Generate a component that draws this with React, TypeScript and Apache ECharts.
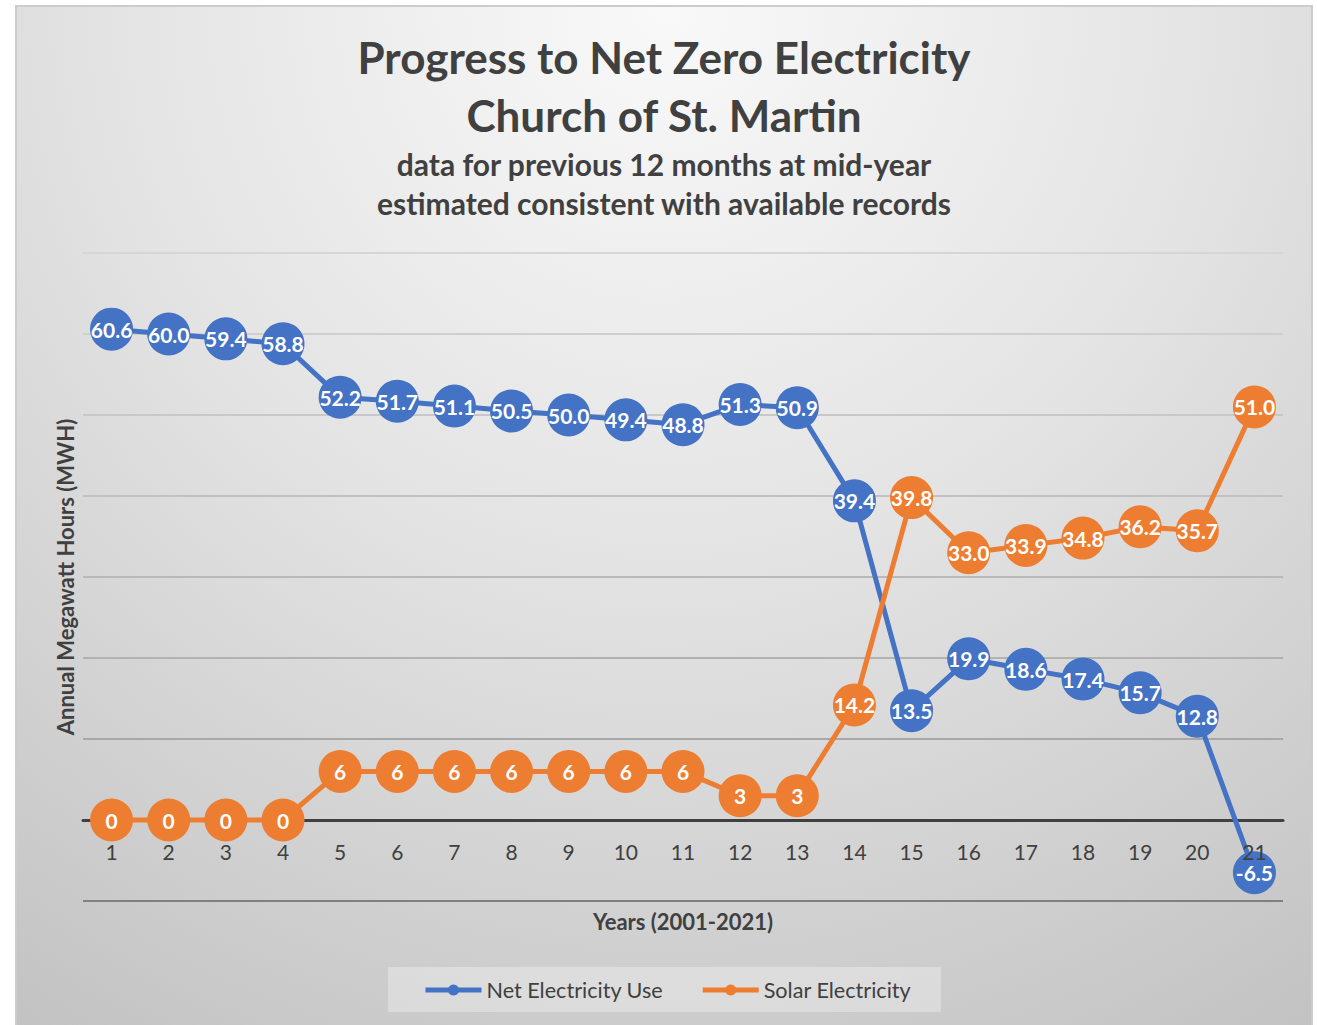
import React, { useEffect, useRef } from "react";
import * as echarts from "echarts";

const years = ["1","2","3","4","5","6","7","8","9","10","11","12","13","14","15","16","17","18","19","20","21"];
const netUse = [60.6, 60.0, 59.4, 58.8, 52.2, 51.7, 51.1, 50.5, 50.0, 49.4, 48.8, 51.3, 50.9, 39.4, 13.5, 19.9, 18.6, 17.4, 15.7, 12.8, -6.5];
const solar = [0, 0, 0, 0, 6, 6, 6, 6, 6, 6, 6, 3, 3, 14.2, 39.8, 33.0, 33.9, 34.8, 36.2, 35.7, 51.0];
const titleLines = ["Progress to Net Zero Electricity", "Church of St. Martin"];
const subtitleLines = ["data for previous 12 months at mid-year", "estimated consistent with available records"];
const seriesNames = ["Net Electricity Use", "Solar Electricity"];

const FONT = "Lato, 'Open Sans', sans-serif";
const TXT = "#404040";

function fmtSolar(v: number) {
  return Number.isInteger(v) && v < 10 ? String(v) : v.toFixed(1);
}

export default function App() {
  const ref = useRef<HTMLDivElement>(null);
  useEffect(() => {
    if (!ref.current) return;
    const chart = echarts.init(ref.current, null, { renderer: "svg" });
    const mkSeries = (name: string, data: number[], color: string, fmt: (v: number) => string) => ({
      name,
      type: "line",
      data,
      xAxisIndex: 0,
      symbol: "circle",
      symbolSize: 43,
      showSymbol: true,
      showAllSymbol: true,
      lineStyle: { color, width: 5 },
      itemStyle: { color },
      z: 3,
      label: {
        show: true,
        position: "inside",
        color: "#ffffff",
        fontFamily: FONT,
        fontWeight: "bold",
        fontSize: 21,
        formatter: (p: any) => fmt(p.value),
      },
    });
    chart.setOption({
      animation: false,
      backgroundColor: "transparent",
      textStyle: { fontFamily: FONT },
      title: {
        text: titleLines.join("\n"),
        subtext: subtitleLines.join("\n"),
        left: "center",
        top: 23,
        padding: 0,
        itemGap: 0,
        textStyle: { fontFamily: FONT, fontWeight: "bold", fontSize: 44, lineHeight: 58, color: TXT },
        subtextStyle: { fontFamily: FONT, fontWeight: "bold", fontSize: 30, lineHeight: 39, color: TXT },
      },
      graphic: [
        {
          type: "rect",
          left: 373,
          top: 962,
          shape: { width: 553, height: 45 },
          style: { fill: "rgba(255,255,255,0.3)" },
          silent: true,
        },
      ],
      legend: {
        left: 408,
        top: 973,
        padding: 0,
        itemWidth: 56,
        itemHeight: 14,
        itemGap: 37,
        lineStyle: { width: 5 },
        textStyle: { fontFamily: FONT, fontSize: 21.6, color: TXT, lineHeight: 24 },
        data: seriesNames,
      },
      grid: { left: 68, right: 30, top: 248, bottom: 124, containLabel: false },
      xAxis: [
        {
          type: "category",
          data: years,
          boundaryGap: true,
          position: "bottom",
          offset: -81,
          name: "Years (2001-2021)",
          nameLocation: "middle",
          nameGap: 90,
          nameTextStyle: { fontFamily: FONT, fontWeight: "bold", fontSize: 22, color: TXT },
          axisLine: { show: true, onZero: false, lineStyle: { color: "#404040", width: 3 } },
          axisTick: { show: false },
          axisLabel: { show: false, interval: 0 },
          splitLine: { show: false },
          z: 1,
        },
        {
          type: "category",
          data: years,
          boundaryGap: true,
          position: "bottom",
          offset: -81,
          axisLine: { show: false, onZero: false },
          axisTick: { show: false },
          axisLabel: { fontFamily: FONT, fontSize: 21, color: TXT, margin: 21, interval: 0 },
          splitLine: { show: false },
          z: 10,
        },
      ],
      yAxis: {
        type: "value",
        min: -10,
        max: 70,
        interval: 10,
        name: "Annual Megawatt Hours (MWH)",
        nameLocation: "middle",
        nameRotate: 90,
        nameGap: 7,
        nameTextStyle: { fontFamily: FONT, fontWeight: "bold", fontSize: 22, color: TXT },
        axisLine: { show: false },
        axisTick: { show: false },
        axisLabel: { show: false },
        splitLine: {
          show: true,
          lineStyle: {
            width: 2,
            color: ["#808080", "#404040", "#a8a8a8", "#b2b2b2", "#b9b9b9", "#c1c1c1", "#c8c8c8", "#cfcfcf", "#d6d6d6"],
          },
        },
      },
      series: [
        mkSeries(seriesNames[0], netUse, "#4472C4", (v) => v.toFixed(1)),
        mkSeries(seriesNames[1], solar, "#ED7D31", fmtSolar),
      ],
    });
    return () => chart.dispose();
  }, []);

  return (
    <div style={{ position: "absolute", left: 0, top: 0, width: 1317, height: 1025, background: "#ffffff", overflow: "hidden" }}>
      <div
        style={{
          position: "absolute",
          left: 15,
          top: 5,
          width: 1298,
          height: 1030,
          boxSizing: "border-box",
          border: "2px solid #cccccc",
          background: "radial-gradient(circle farthest-corner at 50% 0%, #f9f9f9 0%, #e4e4e4 45%, #c2c2c2 100%)",
        }}
      />
      <div ref={ref} style={{ position: "absolute", left: 15, top: 5, width: 1298, height: 1020 }} />
    </div>
  );
}
